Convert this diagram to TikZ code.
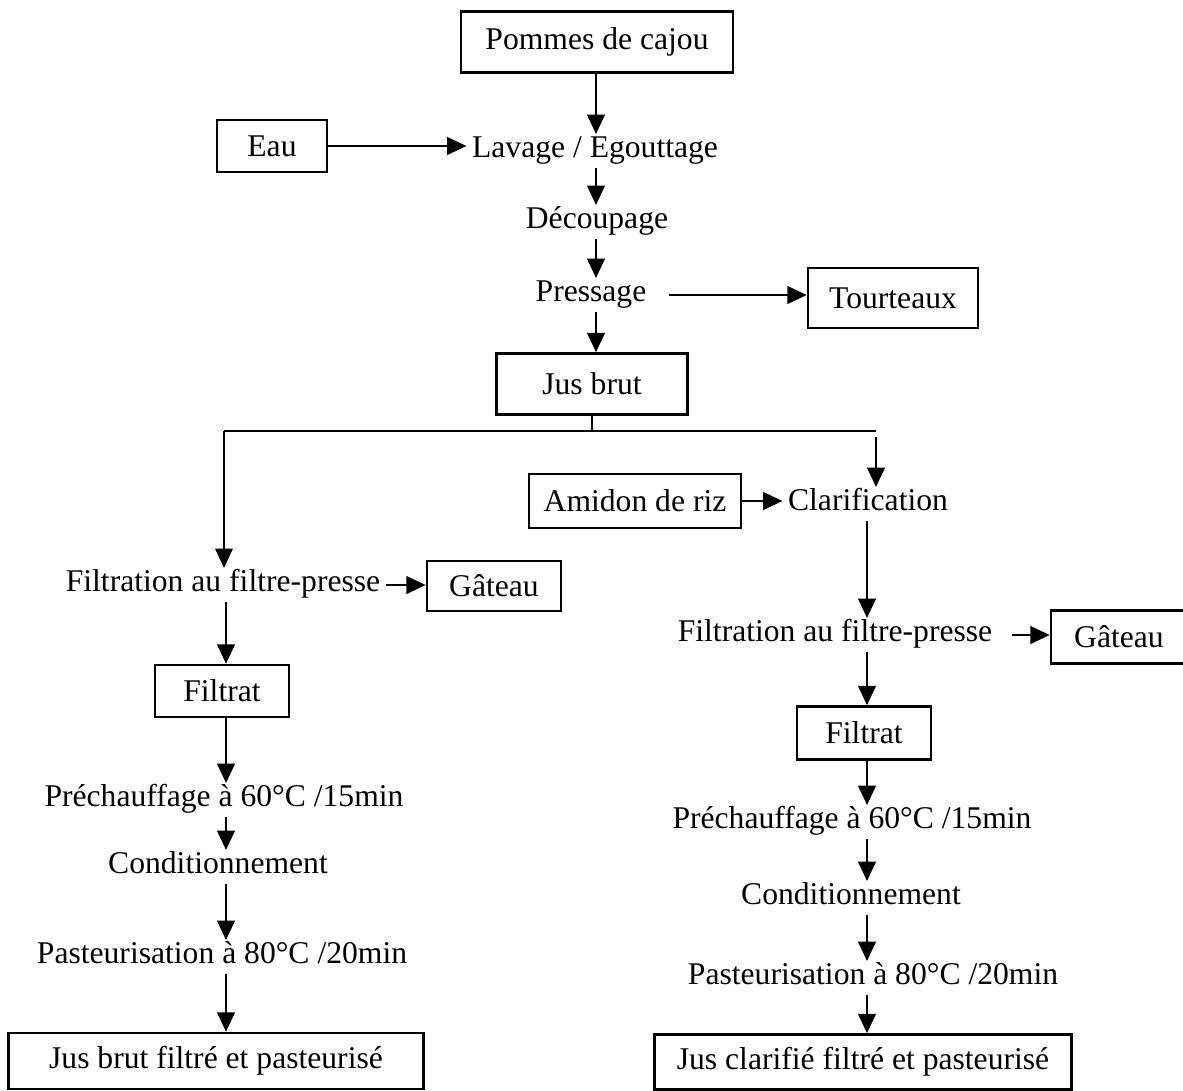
\documentclass[tikz,border=0pt]{standalone}
\usepackage{fontspec}
\setmainfont{Liberation Serif}
\usetikzlibrary{arrows.meta}
\begin{document}
\begin{tikzpicture}[
        x=0.02cm,
        y=-0.02cm,
        font=\fontsize{18}{21}\selectfont
    ]
    \tikzset{
        boite/.style = {rectangle, draw=black, line width=1.5pt, align=center, inner sep=2pt},
        etape/.style = {inner xsep=3pt, inner ysep=6pt, text height=0.7em, text depth=0pt},
        fleche/.style = {-{Triangle[length=11pt,width=10pt]}, line width=1.4pt},
        flechef/.style = {-{Triangle[length=11pt,width=10pt]}, line width=0.8pt},
        trait/.style = {line width=0.8pt},
    }
    \useasboundingbox (0,0) rectangle (1183,1090);
    % axes des colonnes
    \coordinate (axeH) at (596,0);
    \coordinate (axeG) at (226,0);
    \coordinate (axeD) at (867,0);
    %
    \node[boite, minimum width=5.44cm, minimum height=1.22cm] at (597,42) (pommes) {Pommes de cajou};
    \node[boite, minimum width=2.2cm, minimum height=1.04cm] at (272,146) (eau) {Eau};
    \node[etape] at (595,151) (lavage) {Lavage / Egouttage};
    \node[etape] at (597,222) (decoupage) {Découpage};
    \node[etape] at (591,295) (pressage) {Pressage};
    \node[boite, minimum width=3.4cm, minimum height=1.2cm] at (893,298) (tourteaux) {Tourteaux};
    \node[boite, minimum width=3.82cm, minimum height=1.22cm] at (592,384) (jusbrut) {Jus brut};
    %
    \coordinate (brG) at (224,431);
    \coordinate (brD) at (876,431);
    \coordinate (depD) at (876,437);
    %
    \node[boite, minimum width=4.24cm, minimum height=1.08cm] at (635,501) (amidon) {Amidon de riz};
    \node[etape] at (868,504) (clarif) {Clarification};
    % branche gauche
    \node[etape] at (223,585) (filtG) {Filtration au filtre-presse};
    \node[boite, minimum width=2.68cm, minimum height=1.0cm] at (494,586) (gateauG) {Gâteau};
    \node[boite, minimum width=2.68cm, minimum height=1.04cm] at (222,691) (filtratG) {Filtrat};
    \node[etape] at (224,800) (prechG) {Préchauffage à 60°C /15min};
    \node[etape] at (218,867) (condG) {Conditionnement};
    \node[etape] at (222,957) (pastG) {Pasteurisation à 80°C /20min};
    \node[boite, minimum width=8.3cm, minimum height=1.12cm] at (216,1061) (finalG) {Jus brut filtré et pasteurisé};
    % branche droite
    \node[etape] at (835,635) (filtD) {Filtration au filtre-presse};
    \node[boite, minimum width=2.72cm, minimum height=1.06cm] at (1119,637) (gateauD) {Gâteau};
    \node[boite, minimum width=2.68cm, minimum height=1.06cm] at (864,733) (filtratD) {Filtrat};
    \node[etape] at (852,822) (prechD) {Préchauffage à 60°C /15min};
    \node[etape] at (851,898) (condD) {Conditionnement};
    \node[etape] at (873,978) (pastD) {Pasteurisation à 80°C /20min};
    \node[boite, minimum width=8.34cm, minimum height=1.1cm] at (863,1062) (finalD) {Jus clarifié filtré et pasteurisé};
    %
    \draw[fleche] (pommes.south -| axeH) -- (lavage.north -| axeH);
    \draw[fleche] (eau.east) -- (eau.east -| lavage.west);
    \draw[fleche] (lavage.south -| axeH) -- (decoupage.north -| axeH);
    \draw[fleche] (decoupage.south -| axeH) -- (pressage.north -| axeH);
    \draw[fleche, shorten <=0.34cm] (pressage.east) -- (pressage.east -| tourteaux.west);
    \draw[fleche] (pressage.south -| axeH) -- (jusbrut.north -| axeH);
    %
    \draw[line width=1.4pt] (jusbrut.south) -- (jusbrut.south |- brG);
    \draw[trait] (brG) -- (brD);
    \draw[flechef] (brG) -- (filtG.north -| brG);
    \draw[fleche] (depD) -- (clarif.north -| depD);
    \draw[fleche] (amidon.east) -- (amidon.east -| clarif.west);
    %
    \draw[fleche] (filtG.east) -- (filtG.east -| gateauG.west);
    \draw[fleche] (filtG.south -| axeG) -- (filtratG.north -| axeG);
    \draw[fleche] (filtratG.south -| axeG) -- (prechG.north -| axeG);
    \draw[fleche] (prechG.south -| axeG) -- (condG.north -| axeG);
    \draw[fleche] (condG.south -| axeG) -- (pastG.north -| axeG);
    \draw[fleche] (pastG.south -| axeG) -- (finalG.north -| axeG);
    %
    \draw[fleche] (clarif.south -| axeD) -- (filtD.north -| axeD);
    \draw[fleche, shorten <=0.28cm] (filtD.east) -- (filtD.east -| gateauD.west);
    \draw[fleche] (filtD.south -| axeD) -- (filtratD.north -| axeD);
    \draw[fleche] (filtratD.south -| axeD) -- (prechD.north -| axeD);
    \draw[fleche] (prechD.south -| axeD) -- (condD.north -| axeD);
    \draw[fleche] (condD.south -| axeD) -- (pastD.north -| axeD);
    \draw[fleche] (pastD.south -| axeD) -- (finalD.north -| axeD);
\end{tikzpicture}
\end{document}
